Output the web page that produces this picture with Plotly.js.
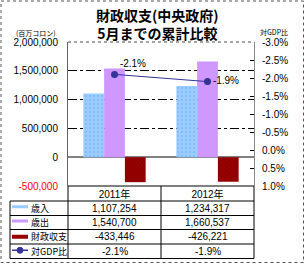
<!DOCTYPE html>
<html>
<head>
<meta charset="utf-8">
<script src="https://cdn.plot.ly/plotly-3.0.1.min.js"></script>
<style>html,body{margin:0;padding:0;background:#fff;}#chart{width:305px;height:264px;}</style>
</head>
<body>
<div id="chart"></div>
<script>
// ---- data ----
var categories = ['2011年', '2012年'];
var seriesNames = ['歳入', '歳出', '財政収支', '対GDP比'];
var revenue = [1107254, 1234317];
var expenditure = [1540700, 1660537];
var balance = [-433446, -426221];
var gdpRatio = [-2.1, -1.9];
var leftTickVals = [-500000, 0, 500000, 1000000, 1500000, 2000000];
var rightTickVals = [-3.0, -2.5, -2.0, -1.5, -1.0, -0.5, 0.0, 0.5, 1.0];

// ---- helpers ----
var W = 305, H = 264, L = 68, R = 51, T = 42, B = 78;
var PW = W - L - R, PH = H - T - B;
function px(p) { return (p - L) / PW; }
function py(p) { return (H - B - p) / PH; }
function fmtNum(v) { return v.toLocaleString('en-US'); }
function fmtPct(v) { return v.toFixed(1) + '%'; }

var FONT = 'Liberation Sans, Arial, Noto Sans CJK JP, sans-serif';
var JFONT = 'Noto Sans CJK JP, sans-serif';
var colors = ['#99CCFF', '#CC99FF', '#990000', '#333399'];

var traces = [
  { type: 'bar', x: categories, y: revenue, name: seriesNames[0],
    marker: { color: colors[0], line: { width: 0 },
      pattern: { shape: '.', bgcolor: colors[0], fgcolor: '#6f9fff', size: 4, solidity: 0.1 } } },
  { type: 'bar', x: categories, y: expenditure, name: seriesNames[1],
    marker: { color: colors[1], line: { width: 0 },
      pattern: { shape: '.', bgcolor: colors[1], fgcolor: '#ee88ff', size: 4, solidity: 0.1 } } },
  { type: 'bar', x: categories, y: balance, name: seriesNames[2],
    marker: { color: colors[2], line: { width: 0 },
      pattern: { shape: 'x', bgcolor: colors[2], fgcolor: '#6a0000', size: 3, solidity: 0.2 } } },
  { type: 'scatter', mode: 'lines+markers+text', x: categories, y: gdpRatio, yaxis: 'y2',
    name: seriesNames[3],
    line: { color: colors[3], width: 1 },
    marker: { color: colors[3], size: 7, symbol: 'circle' },
    text: gdpRatio.map(fmtPct), textposition: ['top right', 'middle right'],
    textfont: { family: FONT, size: 10, color: '#000' }, cliponaxis: false }
];

// ---- table (annotations + shapes) ----
var annotations = [
  { xref: 'paper', yref: 'paper', x: px(157), y: py(24), text: '<b>財政収支(中央政府)<br>5月までの累計比較</b>',
    showarrow: false, font: { family: JFONT, size: 14, color: '#000', weight: 900 }, xanchor: 'center', yanchor: 'middle' },
  { xref: 'paper', yref: 'paper', x: px(14), y: py(33), text: '(百万コロン)', showarrow: false,
    font: { family: JFONT, size: 7, color: '#000' }, xanchor: 'left', yanchor: 'middle' },
  { xref: 'paper', yref: 'paper', x: px(258), y: py(32), text: '対GDP比', showarrow: false,
    font: { family: JFONT, size: 7, color: '#000' }, xanchor: 'left', yanchor: 'middle' }
];
var rowTop = [201, 215.5, 229.5, 244];
var rowBot = [215.5, 229.5, 244, 258.5];
var rowVals = [revenue.map(fmtNum), expenditure.map(fmtNum), balance.map(fmtNum), gdpRatio.map(fmtPct)];
var shapes = [];
for (var i = 0; i < 4; i++) {
  var cy = (rowTop[i] + rowBot[i]) / 2;
  annotations.push({ xref: 'paper', yref: 'paper', x: px(29), y: py(cy), text: seriesNames[i], showarrow: false,
    font: { family: JFONT, size: 9, color: '#000' }, xanchor: 'left', yanchor: 'middle' });
  for (var j = 0; j < categories.length; j++) {
    annotations.push({ xref: 'x', yref: 'paper', x: categories[j], y: py(cy), text: rowVals[i][j], showarrow: false,
      font: { family: FONT, size: 10, color: '#000' }, xanchor: 'center', yanchor: 'middle' });
  }
  if (i < 3) {
    shapes.push({ type: 'rect', xref: 'paper', yref: 'paper', x0: px(12), x1: px(28),
      y0: py(i === 2 ? cy + 2 : cy), y1: py(i === 2 ? cy - 2 : cy - 3),
      fillcolor: colors[i], line: { width: 0 } });
  } else {
    shapes.push({ type: 'line', xref: 'paper', yref: 'paper', x0: px(12), x1: px(28), y0: py(cy - 1), y1: py(cy - 1),
      line: { color: colors[3], width: 1.5 } });
    shapes.push({ type: 'circle', xref: 'paper', yref: 'paper', x0: px(17), x1: px(23), y0: py(cy + 2), y1: py(cy - 4),
      fillcolor: colors[3], line: { color: colors[3], width: 1 } });
  }
}
function hline(y, x0, x1, c, d, w) { shapes.push({ type: 'line', xref: 'paper', yref: 'paper', x0: px(x0), x1: px(x1), y0: py(y), y1: py(y), line: { color: c, width: w || 1, dash: d || 'solid' }, layer: 'above' }); }
function vline(x, y0, y1, c, d, w) { shapes.push({ type: 'line', xref: 'paper', yref: 'paper', x0: px(x), x1: px(x), y0: py(y0), y1: py(y1), line: { color: c, width: w || 1, dash: d || 'solid' }, layer: 'above' }); }
hline(186, 68, 254, '#000');
[201, 215.5, 229.5, 244, 258.5].forEach(function (y) { hline(y, 10, 254, '#000'); });
vline(10, 201, 258.5, '#000');
vline(68, 186, 258.5, '#000');
vline(161, 186, 258.5, '#000');
vline(254, 186, 258.5, '#000');
hline(42, 68, 254, '#888', 'dot', 1.5);
// outer frame
shapes.push({ type: 'rect', xref: 'paper', yref: 'paper', x0: px(1), x1: px(303.5), y0: py(1), y1: py(262.5),
  line: { color: '#555', width: 1, dash: 'dot' }, layer: 'above' });

var layout = {
  width: W, height: H,
  margin: { l: L, r: R, t: T, b: B, pad: 0 },
  paper_bgcolor: '#fff', plot_bgcolor: '#fff',
  showlegend: false,
  barmode: 'group', bargap: 0.33, bargroupgap: 0,
  font: { family: FONT, size: 10, color: '#000' },
  xaxis: { type: 'category', showgrid: false, zeroline: false, showline: false, ticks: '',
    tickfont: { family: FONT, size: 10, color: '#000' }, ticklabelstandoff: 1, fixedrange: true },
  yaxis: { range: [-500000, 2000000], tickvals: leftTickVals,
    ticktext: leftTickVals.map(function (v) { return v < 0 ? '<span style="color:#ff0000">' + fmtNum(v) + '</span>' : fmtNum(v); }),
    showgrid: true, gridcolor: '#000', gridwidth: 1, griddash: 'dashdot',
    zeroline: true, zerolinecolor: '#808080', zerolinewidth: 2,
    showline: true, linecolor: '#666', linewidth: 1, ticks: '', ticklabelstandoff: 7,
    tickfont: { family: FONT, size: 10, color: '#000' }, fixedrange: true },
  yaxis2: { overlaying: 'y', side: 'right', range: [1.0, -3.0], tickvals: rightTickVals,
    ticktext: rightTickVals.map(fmtPct),
    showgrid: false, zeroline: false, showline: true, linecolor: '#888', linewidth: 1,
    ticks: 'inside', ticklen: 4, tickcolor: '#000', ticklabelstandoff: 5,
    tickfont: { family: FONT, size: 10, color: '#000' }, fixedrange: true },
  annotations: annotations,
  shapes: shapes
};

Plotly.newPlot('chart', traces, layout, { staticPlot: true, displayModeBar: false });
</script>
</body>
</html>
